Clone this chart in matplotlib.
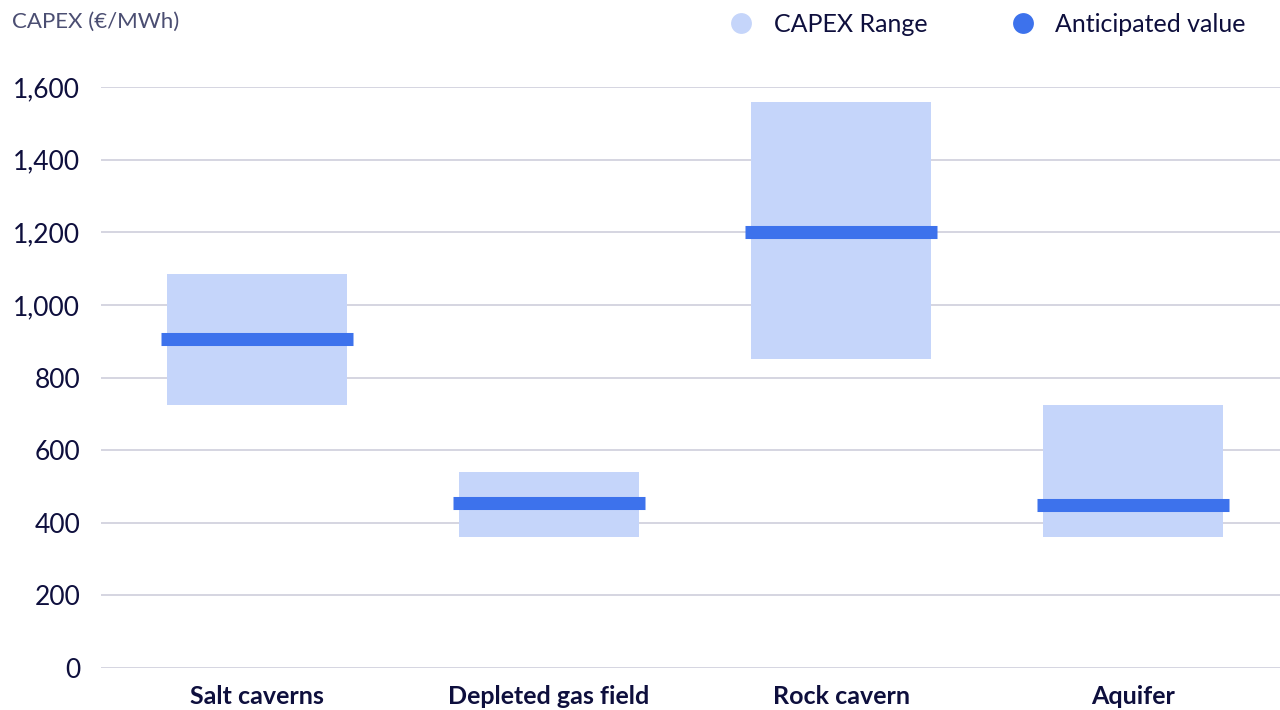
import matplotlib.pyplot as plt
from matplotlib.lines import Line2D
import numpy as np

categories = ['Salt caverns', 'Depleted gas field', 'Rock cavern', 'Aquifer']
range_low = [725, 360, 850, 360]
range_high = [1085, 540, 1560, 725]
anticipated = [905, 455, 1200, 450]
yticks = [0, 200, 400, 600, 800, 1000, 1200, 1400, 1600]

RANGE_COLOR = '#c5d5fa'
VALUE_COLOR = '#3d72ec'
TEXT_COLOR = '#0e0f3d'
GRID_COLOR = '#d2d2de'

plt.rcParams['font.family'] = ['Lato', 'DejaVu Sans']

fig = plt.figure(figsize=(12.8, 7.1), dpi=100)
ax = fig.add_axes([101 / 1280, 42 / 710, 1179 / 1280, 581 / 710])

x = np.arange(len(categories))
low = np.array(range_low)
high = np.array(range_high)

# shaded min-max range per storage type
ax.bar(x, high - low, bottom=low, width=0.616, color=RANGE_COLOR, zorder=2)
# anticipated value as a thick horizontal marker
ax.hlines(anticipated, x - 0.33, x + 0.33, colors=VALUE_COLOR,
          linewidth=9.4, zorder=3, capstyle='butt')

ax.set_xlim(-0.534, 3.503)
ax.set_ylim(0, 1600)
ax.set_yticks(yticks)
ax.set_yticklabels([f'{v:,}' for v in yticks])
ax.set_xticks(x)
ax.set_xticklabels(categories, fontweight='bold')

ax.grid(axis='y', color=GRID_COLOR, linewidth=1.3, zorder=0)
ax.set_axisbelow(True)
for s in ax.spines.values():
    s.set_visible(False)
ax.tick_params(axis='y', length=0, pad=15, labelsize=19, labelcolor=TEXT_COLOR)
ax.tick_params(axis='x', length=0, pad=12, labelsize=18, labelcolor=TEXT_COLOR)

fig.text(12 / 1280, 1 - 22 / 710, 'CAPEX (€/MWh)', fontsize=16,
         color='#4b4e72', va='center', ha='left')

handles = [
    Line2D([], [], marker='o', linestyle='none', markersize=15,
           markerfacecolor=RANGE_COLOR, markeredgecolor='none'),
    Line2D([], [], marker='o', linestyle='none', markersize=15,
           markerfacecolor=VALUE_COLOR, markeredgecolor='none'),
]
fig.legend(handles, ['CAPEX Range', 'Anticipated value'], loc='center right',
           bbox_to_anchor=(1268 / 1280, 1 - 24 / 710), ncol=2, frameon=False,
           fontsize=18, handletextpad=0.8, columnspacing=3.3,
           labelcolor=TEXT_COLOR, handlelength=1.0)

fig.savefig('out.png', dpi=100)
